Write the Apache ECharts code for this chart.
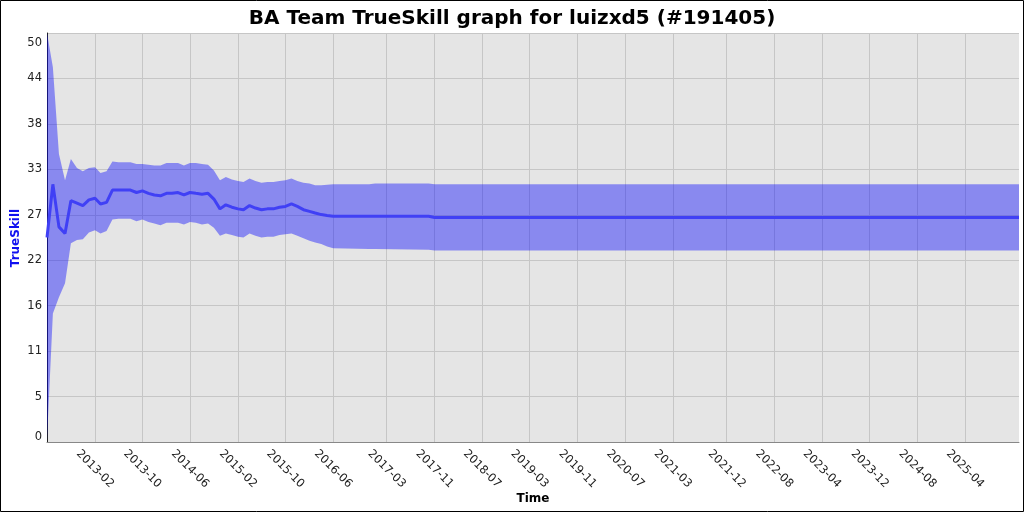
<!DOCTYPE html>
<html>
<head>
<meta charset="utf-8">
<script src="https://cdn.jsdelivr.net/npm/echarts@6/dist/echarts.min.js"></script>
<style>
html,body{margin:0;padding:0;background:#fff;}
#chart{width:1024px;height:512px;}
</style>
</head>
<body>
<div id="chart"></div>
<script>
// ---- data ----
const dates = ['2012-06','2012-07','2012-08','2012-09','2012-10','2012-11','2012-12',
  '2013-01','2013-02','2013-03','2013-04','2013-05','2013-06','2013-07','2013-08','2013-09','2013-10','2013-11','2013-12',
  '2014-01','2014-02','2014-03','2014-04','2014-05','2014-06','2014-07','2014-08','2014-09','2014-10','2014-11','2014-12',
  '2015-01','2015-02','2015-03','2015-04','2015-05','2015-06','2015-07','2015-08','2015-09','2015-10','2015-11','2015-12',
  '2016-01','2016-02','2016-03','2016-04','2016-05','2016-06','2016-12','2017-01','2017-10','2017-11','2026-01'];
const meanSkill = [25.0,31.5,26.3,25.5,29.5,29.2,28.9,
  29.6,29.8,29.1,29.3,30.8,30.8,30.8,30.8,30.5,30.7,30.4,30.2,
  30.1,30.4,30.4,30.5,30.2,30.5,30.4,30.3,30.4,29.7,28.5,29.0,
  28.7,28.5,28.4,28.9,28.6,28.4,28.5,28.5,28.7,28.8,29.1,28.8,
  28.4,28.2,28.0,27.8,27.7,27.6,27.6,27.6,27.6,27.45,27.45];
const upperSkill = [50.0,45.8,35.2,32.0,34.6,33.5,33.1,
  33.5,33.6,32.9,33.1,34.3,34.2,34.2,34.2,34.0,34.0,33.9,33.8,
  33.8,34.1,34.1,34.1,33.8,34.1,34.1,34.0,33.9,33.2,32.0,32.4,
  32.1,31.9,31.8,32.2,31.9,31.7,31.8,31.8,31.9,32.0,32.2,31.9,
  31.7,31.6,31.4,31.4,31.45,31.5,31.5,31.6,31.6,31.5,31.5];
const lowerSkill = [0.3,15.7,17.7,19.4,24.3,24.7,24.8,
  25.6,25.9,25.5,25.8,27.2,27.3,27.3,27.3,27.0,27.2,26.9,26.7,
  26.5,26.8,26.8,26.8,26.6,26.9,26.8,26.6,26.7,26.2,25.2,25.5,
  25.3,25.1,25.0,25.5,25.2,25.0,25.1,25.1,25.3,25.4,25.5,25.2,
  24.9,24.6,24.4,24.2,23.9,23.7,23.6,23.6,23.5,23.4,23.4];
const xTickLabels = ['2013-02','2013-10','2014-06','2015-02','2015-10','2016-06','2017-03','2017-11','2018-07',
  '2019-03','2019-11','2020-07','2021-03','2021-12','2022-08','2023-04','2023-12','2024-08','2025-04'];
const yMin = 0, yMax = 50, yTickCount = 9;

// ---- helpers ----
function ts(s){ const p = s.split('-'); return Date.UTC(+p[0], +p[1]-1, 1); }
function fmt(v){ const d = new Date(v); const m = d.getUTCMonth()+1; return d.getUTCFullYear() + '-' + (m<10?'0':'') + m; }
const xs = dates.map(ts);
const bandData = xs.map((x,i)=>[x, lowerSkill[i], upperSkill[i]]);
const meanData = xs.map((x,i)=>[x, meanSkill[i]]);
const xTicks = xTickLabels.map(ts);

const chart = echarts.init(document.getElementById('chart'), null, {renderer:'canvas'});
chart.setOption({
  animation:false,
  backgroundColor:'#ffffff',
  title:{
    text:'BA Team TrueSkill graph for luizxd5 (#191405)',
    left:'center', top:4,
    textStyle:{fontFamily:'DejaVu Sans', fontWeight:'bold', fontSize:20, color:'#000'}
  },
  graphic:[
    {type:'rect', shape:{x:0.5,y:0.5,width:1023,height:511}, style:{fill:null, stroke:'#000', lineWidth:1}, z:100},
    {type:'text', x:16, y:238, rotation:Math.PI/2, z:100,
      style:{text:'TrueSkill', align:'center', verticalAlign:'middle', font:'bold 12px "DejaVu Sans"', fill:'#1010f0'}},
    {type:'text', x:533, y:499, z:100,
      style:{text:'Time', align:'center', verticalAlign:'middle', font:'bold 12px "DejaVu Sans"', fill:'#000'}}
  ],
  grid:{left:47, right:5, top:33, bottom:70, show:true, backgroundColor:'#e5e5e5', borderWidth:0,
    outerBoundsMode:'none', containLabel:false},
  xAxis:{
    type:'value', min:xs[0], max:xs[xs.length-1],
    axisLine:{show:true, lineStyle:{color:'#888', width:1}},
    axisTick:{show:false, customValues:xTicks},
    axisLabel:{customValues:xTicks, formatter:fmt, rotate:-45, align:'center', verticalAlign:'middle', margin:27,
      fontFamily:'DejaVu Sans', fontSize:11.5, color:'#222'},
    splitLine:{show:true, lineStyle:{color:'#c6c6c6', width:1}}
  },
  yAxis:{
    type:'value', min:yMin, max:yMax, interval:(yMax-yMin)/yTickCount,
    axisLine:{show:true, lineStyle:{color:'#222', width:1}},
    axisTick:{show:false},
    axisLabel:{
      formatter:function(v){
        const s = String(Math.floor(v+1e-6));
        if (v >= yMax - 1e-6) return '{top|' + s + '}';
        if (v <= yMin + 1e-6) return '{bot|' + s + '}';
        return s;
      },
      rich:{
        top:{padding:[4,0,0,0], fontFamily:'DejaVu Sans', fontSize:11.5, color:'#222'},
        bot:{lineHeight:9, fontFamily:'DejaVu Sans', fontSize:11.5, color:'#222'}
      },
      margin:5, fontFamily:'DejaVu Sans', fontSize:11.5, color:'#222',
      verticalAlignMaxLabel:'top', verticalAlignMinLabel:'bottom'},
    splitLine:{show:true, lineStyle:{color:'#c6c6c6', width:1}}
  },
  series:[
    {type:'custom', data:bandData, encode:{x:0, y:[1,2]}, silent:true, z:2,
      renderItem:function(params, api){
        if (params.dataIndex !== 0) return null;
        const top = [], bot = [];
        for (let i = 0; i < bandData.length; i++) {
          top.push(api.coord([bandData[i][0], bandData[i][2]]));
          bot.push(api.coord([bandData[i][0], bandData[i][1]]));
        }
        return {type:'polygon', shape:{points: top.concat(bot.reverse())},
          style:{fill:'rgba(0,0,255,0.4)', stroke:null}};
      }},
    {type:'line', data:meanData, symbol:'none', lineStyle:{color:'#4040f5', width:3}, z:5}
  ]
});
</script>
</body>
</html>
